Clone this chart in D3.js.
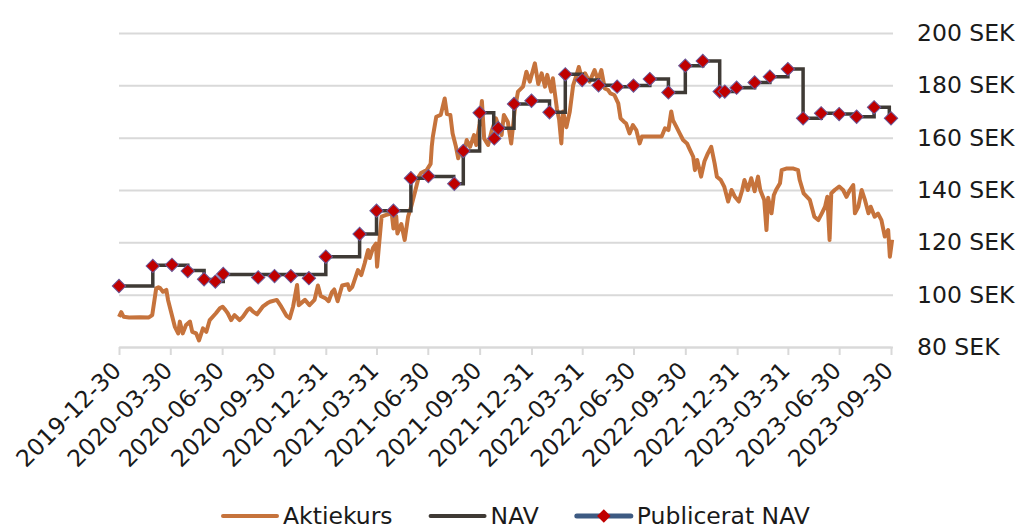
<!DOCTYPE html>
<html>
<head>
<meta charset="utf-8">
<script src="https://cdn.jsdelivr.net/npm/d3@7"></script>
<style>
  html, body { margin: 0; padding: 0; background: #fff; }
  svg text { font-family: "DejaVu Sans", sans-serif; fill: #1a1a1a; }
</style>
</head>
<body>
<svg id="chart" width="1018" height="531"></svg>
<script>
const tickDates = ['2019-12-30', '2020-03-30', '2020-06-30', '2020-09-30', '2020-12-31', '2021-03-31',
    '2021-06-30', '2021-09-30', '2021-12-31', '2022-03-31', '2022-06-30', '2022-09-30',
    '2022-12-31', '2023-03-31', '2023-06-30', '2023-09-30'];
const yTicks = [80, 100, 120, 140, 160, 180, 200];
const legendItems = ['Aktiekurs', 'NAV', 'Publicerat NAV'];

// Aktiekurs (SEK)
const aktiekurs = [
    ['2019-12-30', 91.5], ['2020-01-03', 93.3], ['2020-01-07', 91.6], ['2020-01-17', 91.3], ['2020-02-05', 91.4],
    ['2020-02-21', 91.3], ['2020-02-27', 92.2], ['2020-03-05', 102.4], ['2020-03-09', 102.8], ['2020-03-12', 102.5],
    ['2020-03-17', 101.1], ['2020-03-23', 101.8], ['2020-03-26', 98.0], ['2020-04-01', 92.9], ['2020-04-07', 87.8],
    ['2020-04-13', 85.2], ['2020-04-16', 89.7], ['2020-04-21', 85.2], ['2020-04-27', 88.4], ['2020-05-04', 89.7],
    ['2020-05-08', 85.8], ['2020-05-15', 85.2], ['2020-05-20', 82.5], ['2020-05-27', 87.1], ['2020-06-02', 85.8],
    ['2020-06-08', 90.3], ['2020-06-19', 92.9], ['2020-06-26', 94.8], ['2020-07-01', 95.4], ['2020-07-06', 94.1],
    ['2020-07-10', 92.9], ['2020-07-16', 90.3], ['2020-07-22', 92.2], ['2020-07-31', 90.3], ['2020-08-06', 91.6],
    ['2020-08-14', 94.1], ['2020-08-18', 94.8], ['2020-08-24', 93.5], ['2020-08-31', 92.5], ['2020-09-10', 95.4],
    ['2020-09-18', 96.7], ['2020-09-23', 97.3], ['2020-10-05', 98.0], ['2020-10-13', 95.4], ['2020-10-22', 92.0],
    ['2020-10-28', 91.0], ['2020-11-03', 95.5], ['2020-11-10', 103.7], ['2020-11-13', 96.0], ['2020-11-24', 98.0],
    ['2020-12-02', 96.0], ['2020-12-11', 98.0], ['2020-12-17', 103.5], ['2020-12-22', 99.5], ['2020-12-31', 98.5],
    ['2021-01-05', 97.5], ['2021-01-11', 101.0], ['2021-01-15', 102.0], ['2021-01-21', 97.5], ['2021-01-29', 103.5],
    ['2021-02-08', 104.0], ['2021-02-11', 101.8], ['2021-02-16', 103.0], ['2021-02-23', 107.5], ['2021-02-26', 109.4],
    ['2021-03-04', 107.5], ['2021-03-10', 112.0], ['2021-03-16', 117.1], ['2021-03-19', 114.0], ['2021-03-25', 118.0],
    ['2021-03-30', 119.5], ['2021-04-01', 110.7], ['2021-04-09', 129.8], ['2021-04-16', 130.4], ['2021-04-27', 131.1],
    ['2021-04-30', 125.3], ['2021-05-05', 130.0], ['2021-05-07', 123.4], ['2021-05-14', 127.0], ['2021-05-20', 120.9],
    ['2021-05-26', 129.8], ['2021-06-01', 134.0], ['2021-06-07', 139.0], ['2021-06-14', 145.1], ['2021-06-18', 146.5],
    ['2021-06-28', 147.6], ['2021-07-05', 150.0], ['2021-07-07', 156.5], ['2021-07-09', 160.4], ['2021-07-15', 168.0],
    ['2021-07-23', 168.7], ['2021-07-30', 175.0], ['2021-08-03', 169.0], ['2021-08-09', 168.7], ['2021-08-13', 161.6],
    ['2021-08-19', 156.5], ['2021-08-23', 152.1], ['2021-08-27', 155.2], ['2021-09-01', 152.7], ['2021-09-07', 159.1],
    ['2021-09-13', 156.5], ['2021-09-20', 161.0], ['2021-09-24', 157.2], ['2021-09-30', 165.4], ['2021-10-04', 174.0],
    ['2021-10-08', 159.7], ['2021-10-15', 157.2], ['2021-10-21', 162.3], ['2021-10-29', 167.4], ['2021-11-08', 161.0],
    ['2021-11-12', 168.7], ['2021-11-19', 166.0], ['2021-11-25', 157.8], ['2021-12-01', 170.0], ['2021-12-07', 177.6],
    ['2021-12-16', 179.5], ['2021-12-22', 185.2], ['2021-12-28', 181.4], ['2022-01-06', 188.4], ['2022-01-12', 180.5],
    ['2022-01-18', 184.6], ['2022-01-24', 179.5], ['2022-01-28', 184.0], ['2022-02-04', 177.6], ['2022-02-07', 182.7],
    ['2022-02-14', 171.2], ['2022-02-18', 167.0], ['2022-02-22', 157.8], ['2022-02-25', 170.0], ['2022-03-03', 164.0],
    ['2022-03-09', 170.0], ['2022-03-15', 180.1], ['2022-03-21', 184.0], ['2022-03-25', 187.0], ['2022-03-30', 183.0],
    ['2022-04-05', 184.6], ['2022-04-13', 181.4], ['2022-04-22', 185.8], ['2022-04-28', 182.0], ['2022-05-04', 185.8],
    ['2022-05-10', 178.8], ['2022-05-16', 178.2], ['2022-05-20', 176.9], ['2022-05-27', 176.3], ['2022-06-03', 173.1],
    ['2022-06-07', 167.4], ['2022-06-13', 166.1], ['2022-06-17', 165.4], ['2022-06-23', 161.6], ['2022-06-29', 164.8],
    ['2022-07-05', 162.9], ['2022-07-11', 157.8], ['2022-07-15', 160.4], ['2022-08-19', 160.4], ['2022-08-25', 163.6],
    ['2022-08-31', 162.9], ['2022-09-05', 170.0], ['2022-09-08', 166.7], ['2022-09-14', 164.2], ['2022-09-20', 161.6],
    ['2022-09-26', 159.1], ['2022-10-03', 157.8], ['2022-10-07', 155.9], ['2022-10-14', 152.7], ['2022-10-17', 147.6],
    ['2022-10-21', 151.5], ['2022-10-28', 145.1], ['2022-11-03', 151.0], ['2022-11-09', 154.0], ['2022-11-15', 156.5],
    ['2022-11-21', 150.2], ['2022-11-25', 145.1], ['2022-12-02', 143.8], ['2022-12-08', 141.3], ['2022-12-15', 135.6],
    ['2022-12-21', 140.0], ['2022-12-27', 137.4], ['2023-01-03', 135.6], ['2023-01-09', 140.0], ['2023-01-13', 143.8],
    ['2023-01-19', 140.0], ['2023-01-25', 144.5], ['2023-01-31', 139.5], ['2023-02-06', 145.1], ['2023-02-10', 140.0],
    ['2023-02-17', 136.2], ['2023-02-21', 124.7], ['2023-02-24', 137.0], ['2023-03-02', 131.1], ['2023-03-06', 138.0],
    ['2023-03-10', 140.0], ['2023-03-17', 142.6], ['2023-03-20', 147.6], ['2023-03-28', 148.2], ['2023-04-10', 148.2],
    ['2023-04-18', 147.6], ['2023-04-21', 143.8], ['2023-04-28', 138.7], ['2023-05-09', 136.2], ['2023-05-17', 129.8],
    ['2023-05-24', 128.5], ['2023-05-30', 131.0], ['2023-06-05', 133.6], ['2023-06-09', 137.4], ['2023-06-13', 120.9],
    ['2023-06-16', 138.7], ['2023-06-22', 140.0], ['2023-06-30', 141.3], ['2023-07-07', 140.0], ['2023-07-13', 137.4],
    ['2023-07-19', 140.0], ['2023-07-25', 141.9], ['2023-07-28', 131.1], ['2023-08-03', 133.6], ['2023-08-09', 140.0],
    ['2023-08-15', 136.0], ['2023-08-21', 131.1], ['2023-08-25', 133.6], ['2023-09-01', 129.8], ['2023-09-07', 131.0],
    ['2023-09-13', 128.5], ['2023-09-19', 122.2], ['2023-09-25', 124.7], ['2023-09-28', 114.5], ['2023-10-02', 121.0]
];

// NAV, drawn as steps
const nav = [
    ['2019-12-30', 103.3], ['2020-02-28', 111.2], ['2020-04-30', 109.2], ['2020-05-29', 105.8], ['2020-06-18', 105.0],
    ['2020-07-02', 107.7], ['2020-12-31', 114.5], ['2021-03-01', 123.2], ['2021-03-31', 132.1], ['2021-05-31', 144.5],
    ['2021-07-01', 145.2], ['2021-08-15', 142.4], ['2021-09-01', 154.9], ['2021-09-30', 169.5], ['2021-10-25', 163.6],
    ['2021-11-30', 172.9], ['2021-12-31', 174.0], ['2022-02-01', 169.7], ['2022-03-01', 184.2], ['2022-03-31', 182.0],
    ['2022-04-29', 180.0], ['2022-06-01', 179.5], ['2022-06-30', 179.9], ['2022-07-29', 182.4], ['2022-08-31', 177.3],
    ['2022-09-30', 187.5], ['2022-10-31', 189.3], ['2022-11-30', 177.6], ['2022-12-30', 179.1], ['2023-01-31', 181.1],
    ['2023-02-27', 183.3], ['2023-03-31', 186.2], ['2023-04-27', 167.4], ['2023-05-29', 169.3], ['2023-06-30', 169.0],
    ['2023-07-31', 168.0], ['2023-08-31', 171.6], ['2023-09-27', 167.4], ['2023-09-30', 167.4]
];

// Publicerat NAV (markers only)
const publiceratNav = [
    ['2019-12-30', 103.3], ['2020-02-28', 111.0], ['2020-04-02', 111.4], ['2020-04-30', 109.0], ['2020-05-29', 105.9],
    ['2020-06-18', 105.0], ['2020-07-02', 107.9], ['2020-09-02', 106.6], ['2020-10-01', 107.1], ['2020-10-30', 107.1],
    ['2020-12-01', 106.3], ['2020-12-31', 114.5], ['2021-03-01', 123.2], ['2021-03-31', 132.1], ['2021-04-30', 132.1],
    ['2021-05-31', 144.5], ['2021-07-01', 145.3], ['2021-08-16', 142.4], ['2021-09-01', 154.9], ['2021-09-30', 169.5],
    ['2021-10-26', 159.7], ['2021-11-02', 163.6], ['2021-11-30', 172.9], ['2021-12-31', 174.1], ['2022-02-01', 169.7],
    ['2022-03-01', 184.2], ['2022-03-31', 182.0], ['2022-04-29', 180.0], ['2022-06-01', 179.5], ['2022-06-30', 179.9],
    ['2022-07-29', 182.4], ['2022-08-31', 177.3], ['2022-09-30', 187.5], ['2022-10-31', 189.3], ['2022-11-30', 177.6],
    ['2022-12-09', 177.6], ['2022-12-30', 179.1], ['2023-01-31', 181.1], ['2023-02-27', 183.3], ['2023-03-31', 186.2],
    ['2023-04-27', 167.4], ['2023-05-29', 169.3], ['2023-06-30', 169.0], ['2023-07-31', 168.0], ['2023-08-31', 171.6],
    ['2023-09-30', 167.4]
];

const COLORS = { kurs: '#C6733C', nav: '#3f3a35', pub: '#3d5a82', marker: '#C00000', grid: '#d9d9d9' };
const plot = { left: 119, right: 891, top: 33, bottom: 347 };
const FONT_SIZE = 23.5;

const parse = d3.timeParse('%Y-%m-%d');
const fmt = d3.timeFormat('%Y-%m-%d');
const svg = d3.select('#chart');

const x = d3.scaleTime()
    .domain([parse(tickDates[0]), parse(tickDates[tickDates.length - 1])])
    .range([plot.left, plot.right]);
const y = d3.scaleLinear()
    .domain([yTicks[0], yTicks[yTicks.length - 1]])
    .range([plot.bottom, plot.top]);

// gridlines + labels on the right
svg.append('g')
    .attr('transform', `translate(${plot.right + 2},0)`)
    .call(d3.axisRight(y).tickValues(yTicks).tickFormat(d => `${d} SEK`)
        .tickSize(-(plot.right + 2 - plot.left)).tickPadding(24))
    .call(g => g.select('.domain').remove())
    .call(g => g.selectAll('.tick line').attr('stroke', COLORS.grid).attr('stroke-width', 2))
    .call(g => g.selectAll('.tick text').attr('font-size', FONT_SIZE));

// date axis
svg.append('g')
    .attr('transform', `translate(0,${plot.bottom})`)
    .call(d3.axisBottom(x).tickValues(tickDates.map(parse)).tickFormat(fmt).tickSize(8).tickSizeOuter(0))
    .call(g => g.select('.domain').attr('stroke', COLORS.grid).attr('stroke-width', 2))
    .call(g => g.selectAll('.tick line').attr('stroke', COLORS.grid).attr('stroke-width', 2))
    .call(g => g.selectAll('.tick text')
        .attr('font-size', FONT_SIZE)
        .attr('text-anchor', 'end')
        .attr('x', 0).attr('y', 0).attr('dy', 0)
        .attr('transform', 'translate(3,25) rotate(-45)'));

const kursLine = d3.line()
    .x(d => x(parse(d[0])))
    .y(d => y(d[1]));

const navLine = d3.line()
    .curve(d3.curveStepAfter)
    .x(d => x(parse(d[0])))
    .y(d => y(d[1]));

svg.append('path')
    .datum(aktiekurs)
    .attr('d', kursLine)
    .attr('fill', 'none')
    .attr('stroke', COLORS.kurs)
    .attr('stroke-width', 4)
    .attr('stroke-linejoin', 'round');

svg.append('path')
    .datum(nav)
    .attr('d', navLine)
    .attr('fill', 'none')
    .attr('stroke', COLORS.nav)
    .attr('stroke-width', 3.5);

const diamond = d3.symbol().type(d3.symbolSquare).size(90);

svg.append('g')
    .selectAll('path')
    .data(publiceratNav)
    .join('path')
    .attr('d', diamond)
    .attr('transform', d => `translate(${x(parse(d[0]))},${y(d[1])}) rotate(45)`)
    .attr('fill', COLORS.marker)
    .attr('stroke', '#6a5a9a')
    .attr('stroke-width', 1);

// legend
const legendColors = [COLORS.kurs, COLORS.nav, COLORS.pub];
const legendY = 516;
let lx = 223;
legendItems.forEach((name, i) => {
    const g = svg.append('g');
    g.append('line')
        .attr('x1', lx).attr('x2', lx + 54)
        .attr('y1', legendY).attr('y2', legendY)
        .attr('stroke', legendColors[i])
        .attr('stroke-width', i === 2 ? 5 : 4)
        .attr('stroke-linecap', 'round');
    if (i === 2) {
        g.append('path')
            .attr('d', diamond)
            .attr('transform', `translate(${lx + 27},${legendY}) rotate(45)`)
            .attr('fill', COLORS.marker);
    }
    const t = g.append('text')
        .attr('x', lx + 60)
        .attr('y', legendY)
        .attr('dominant-baseline', 'central')
        .attr('font-size', FONT_SIZE)
        .text(name);
    lx += 60 + t.node().getComputedTextLength() + 38;
});
</script>
</body>
</html>
